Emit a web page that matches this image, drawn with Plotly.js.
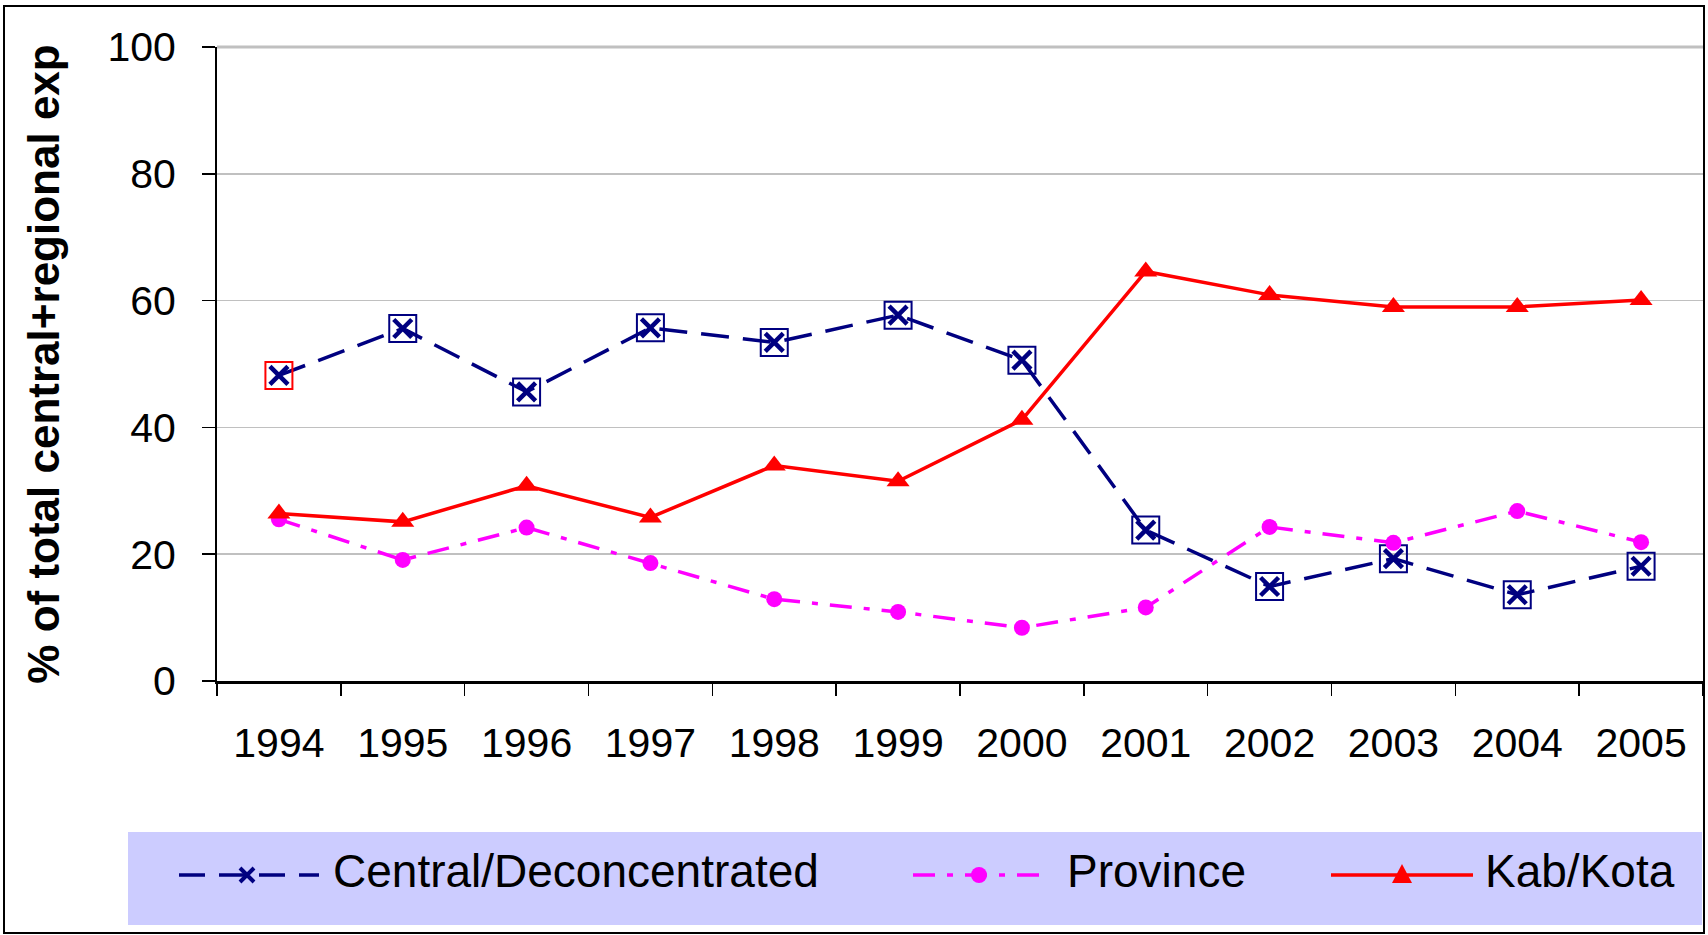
<!DOCTYPE html>
<html>
<head>
<meta charset="utf-8">
<script src="https://cdn.plot.ly/plotly-3.0.1.min.js"></script>
<style>
  html, body { margin: 0; padding: 0; background: #ffffff; }
  #chart { width: 1708px; height: 935px; }
</style>
</head>
<body>
<div id="chart"></div>
<script>
// ---- data ----
const years = ["1994","1995","1996","1997","1998","1999","2000","2001","2002","2003","2004","2005"];
const central  = [48.2, 55.6, 45.6, 55.7, 53.4, 57.7, 50.6, 23.8, 14.9, 19.3, 13.6, 18.1];
const province = [25.5, 19.1, 24.2, 18.6, 12.9, 10.9,  8.4, 11.6, 24.3, 21.8, 26.8, 21.9];
const kabKota  = [26.4, 25.1, 30.8, 25.8, 34.0, 31.5, 41.2, 64.6, 60.9, 59.0, 59.0, 60.1];
const seriesNames = ["Central/Deconcentrated", "Province", "Kab/Kota"];
const yAxisTitle = "% of total central+regional exp";

// ---- styles ----
const NAVY = "#000080", MAGENTA = "#FF00FF", RED = "#FF0000";
const FONT = "'Liberation Sans', Arial, sans-serif";

// plot area in pixels (used only to place decorations in paper units)
const L = 217, R = 5, T = 47, B = 254, W = 1708, H = 935;
const PW = W - L - R, PH = H - T - B;
const px = x => (x - L) / PW;
const py = y => (H - B - y) / PH;

const traces = [
  {
    x: years, y: central, name: seriesNames[0], type: "scatter", mode: "lines+markers",
    line: { color: NAVY, width: 3.5, dash: "28px,14px" },
    marker: { symbol: "x-thin", size: 18, color: NAVY, line: { color: NAVY, width: 4.5 } },
    showlegend: false
  },
  {
    x: years, y: central, name: seriesNames[0] + " (selection)", type: "scatter", mode: "markers",
    marker: { symbol: "square-open", size: 27,
              color: central.map((v, i) => i === 0 ? RED : NAVY),
              line: { width: 2, color: central.map((v, i) => i === 0 ? RED : NAVY) } },
    showlegend: false, hoverinfo: "skip"
  },
  {
    x: years, y: province, name: seriesNames[1], type: "scatter", mode: "lines+markers",
    line: { color: MAGENTA, width: 3.5, dash: "22px,12px,6px,12px" },
    marker: { symbol: "circle", size: 16, color: MAGENTA },
    showlegend: false
  },
  {
    x: years, y: kabKota, name: seriesNames[2], type: "scatter", mode: "lines+markers",
    line: { color: RED, width: 3.5 },
    marker: { symbol: "triangle-up", size: 20, color: RED },
    showlegend: false
  }
];

// ---- custom legend (decoration) ----
const legY = py(875);
const shapes = [
  // outer chart frame
  { type: "rect", xref: "paper", yref: "paper", x0: px(4), x1: px(1704), y0: py(933), y1: py(6),
    line: { color: "#000000", width: 2 }, fillcolor: "rgba(0,0,0,0)", layer: "below" },
  // legend background
  { type: "rect", xref: "paper", yref: "paper", x0: px(128), x1: px(1702), y0: py(925), y1: py(832),
    line: { width: 0 }, fillcolor: "#CCCCFF", layer: "below" },
  // top gridline at 100 (heavier)
  { type: "line", xref: "paper", yref: "paper", x0: 0, x1: 1, y0: 1, y1: 1,
    line: { color: "#C0C0C0", width: 3 } },
  // legend: central
  { type: "line", xref: "paper", yref: "paper", x0: px(179), x1: px(319), y0: legY, y1: legY,
    line: { color: NAVY, width: 3.5, dash: "26px,14px" } },
  { type: "path", xref: "paper", yref: "paper", xsizemode: "pixel", ysizemode: "pixel",
    xanchor: px(247), yanchor: legY, path: "M-7,-7 L7,7 M-7,7 L7,-7",
    line: { color: NAVY, width: 4 } },
  // legend: province
  { type: "line", xref: "paper", yref: "paper", x0: px(913), x1: px(1051), y0: legY, y1: legY,
    line: { color: MAGENTA, width: 3.5, dash: "22px,12px,6px,12px" } },
  { type: "circle", xref: "paper", yref: "paper", xsizemode: "pixel", ysizemode: "pixel",
    xanchor: px(979), yanchor: legY, x0: -8, x1: 8, y0: -8, y1: 8,
    fillcolor: MAGENTA, line: { width: 0 } },
  // legend: kab/kota
  { type: "line", xref: "paper", yref: "paper", x0: px(1331), x1: px(1473), y0: legY, y1: legY,
    line: { color: RED, width: 3.5 } },
  { type: "path", xref: "paper", yref: "paper", xsizemode: "pixel", ysizemode: "pixel",
    xanchor: px(1402), yanchor: legY, path: "M0,11 L-10,-8 L10,-8 Z",
    fillcolor: RED, line: { width: 0 } }
];

const legFont = { family: FONT, size: 46, color: "#000000" };
const annotations = [
  { text: seriesNames[0], x: px(331), xanchor: "left" },
  { text: seriesNames[1], x: px(1065), xanchor: "left" },
  { text: seriesNames[2], x: px(1483), xanchor: "left" }
].map(a => Object.assign({ xref: "paper", yref: "paper", y: py(871), yanchor: "middle",
                           showarrow: false, font: legFont }, a));

const layout = {
  width: W, height: H,
  margin: { l: L, r: R, t: T, b: B, pad: 0 },
  paper_bgcolor: "#ffffff", plot_bgcolor: "#ffffff",
  font: { family: FONT, color: "#000000" },
  showlegend: false,
  xaxis: {
    type: "category", range: [-0.5, 11.5], tickson: "boundaries",
    showline: true, linecolor: "#000000", linewidth: 2.5,
    ticks: "outside", ticklen: 12, tickwidth: 1.5, tickcolor: "#000000",
    showgrid: false, zeroline: false,
    tickfont: { family: FONT, size: 41, color: "#000000" },
    ticklabelstandoff: 24
  },
  yaxis: {
    range: [0, 100], dtick: 20, tick0: 0,
    showline: true, linecolor: "#000000", linewidth: 2,
    ticks: "outside", ticklen: 13, tickwidth: 1.5, tickcolor: "#000000",
    showgrid: true, gridcolor: "#C0C0C0", gridwidth: 1.5, zeroline: false,
    tickfont: { family: FONT, size: 41, color: "#000000" },
    ticklabelstandoff: 18,
    title: { text: yAxisTitle, font: { family: FONT, size: 44, color: "#000000", weight: "bold" }, standoff: 34 }
  },
  shapes: shapes,
  annotations: annotations
};

Plotly.newPlot("chart", traces, layout, { displayModeBar: false, staticPlot: true });
</script>
</body>
</html>
